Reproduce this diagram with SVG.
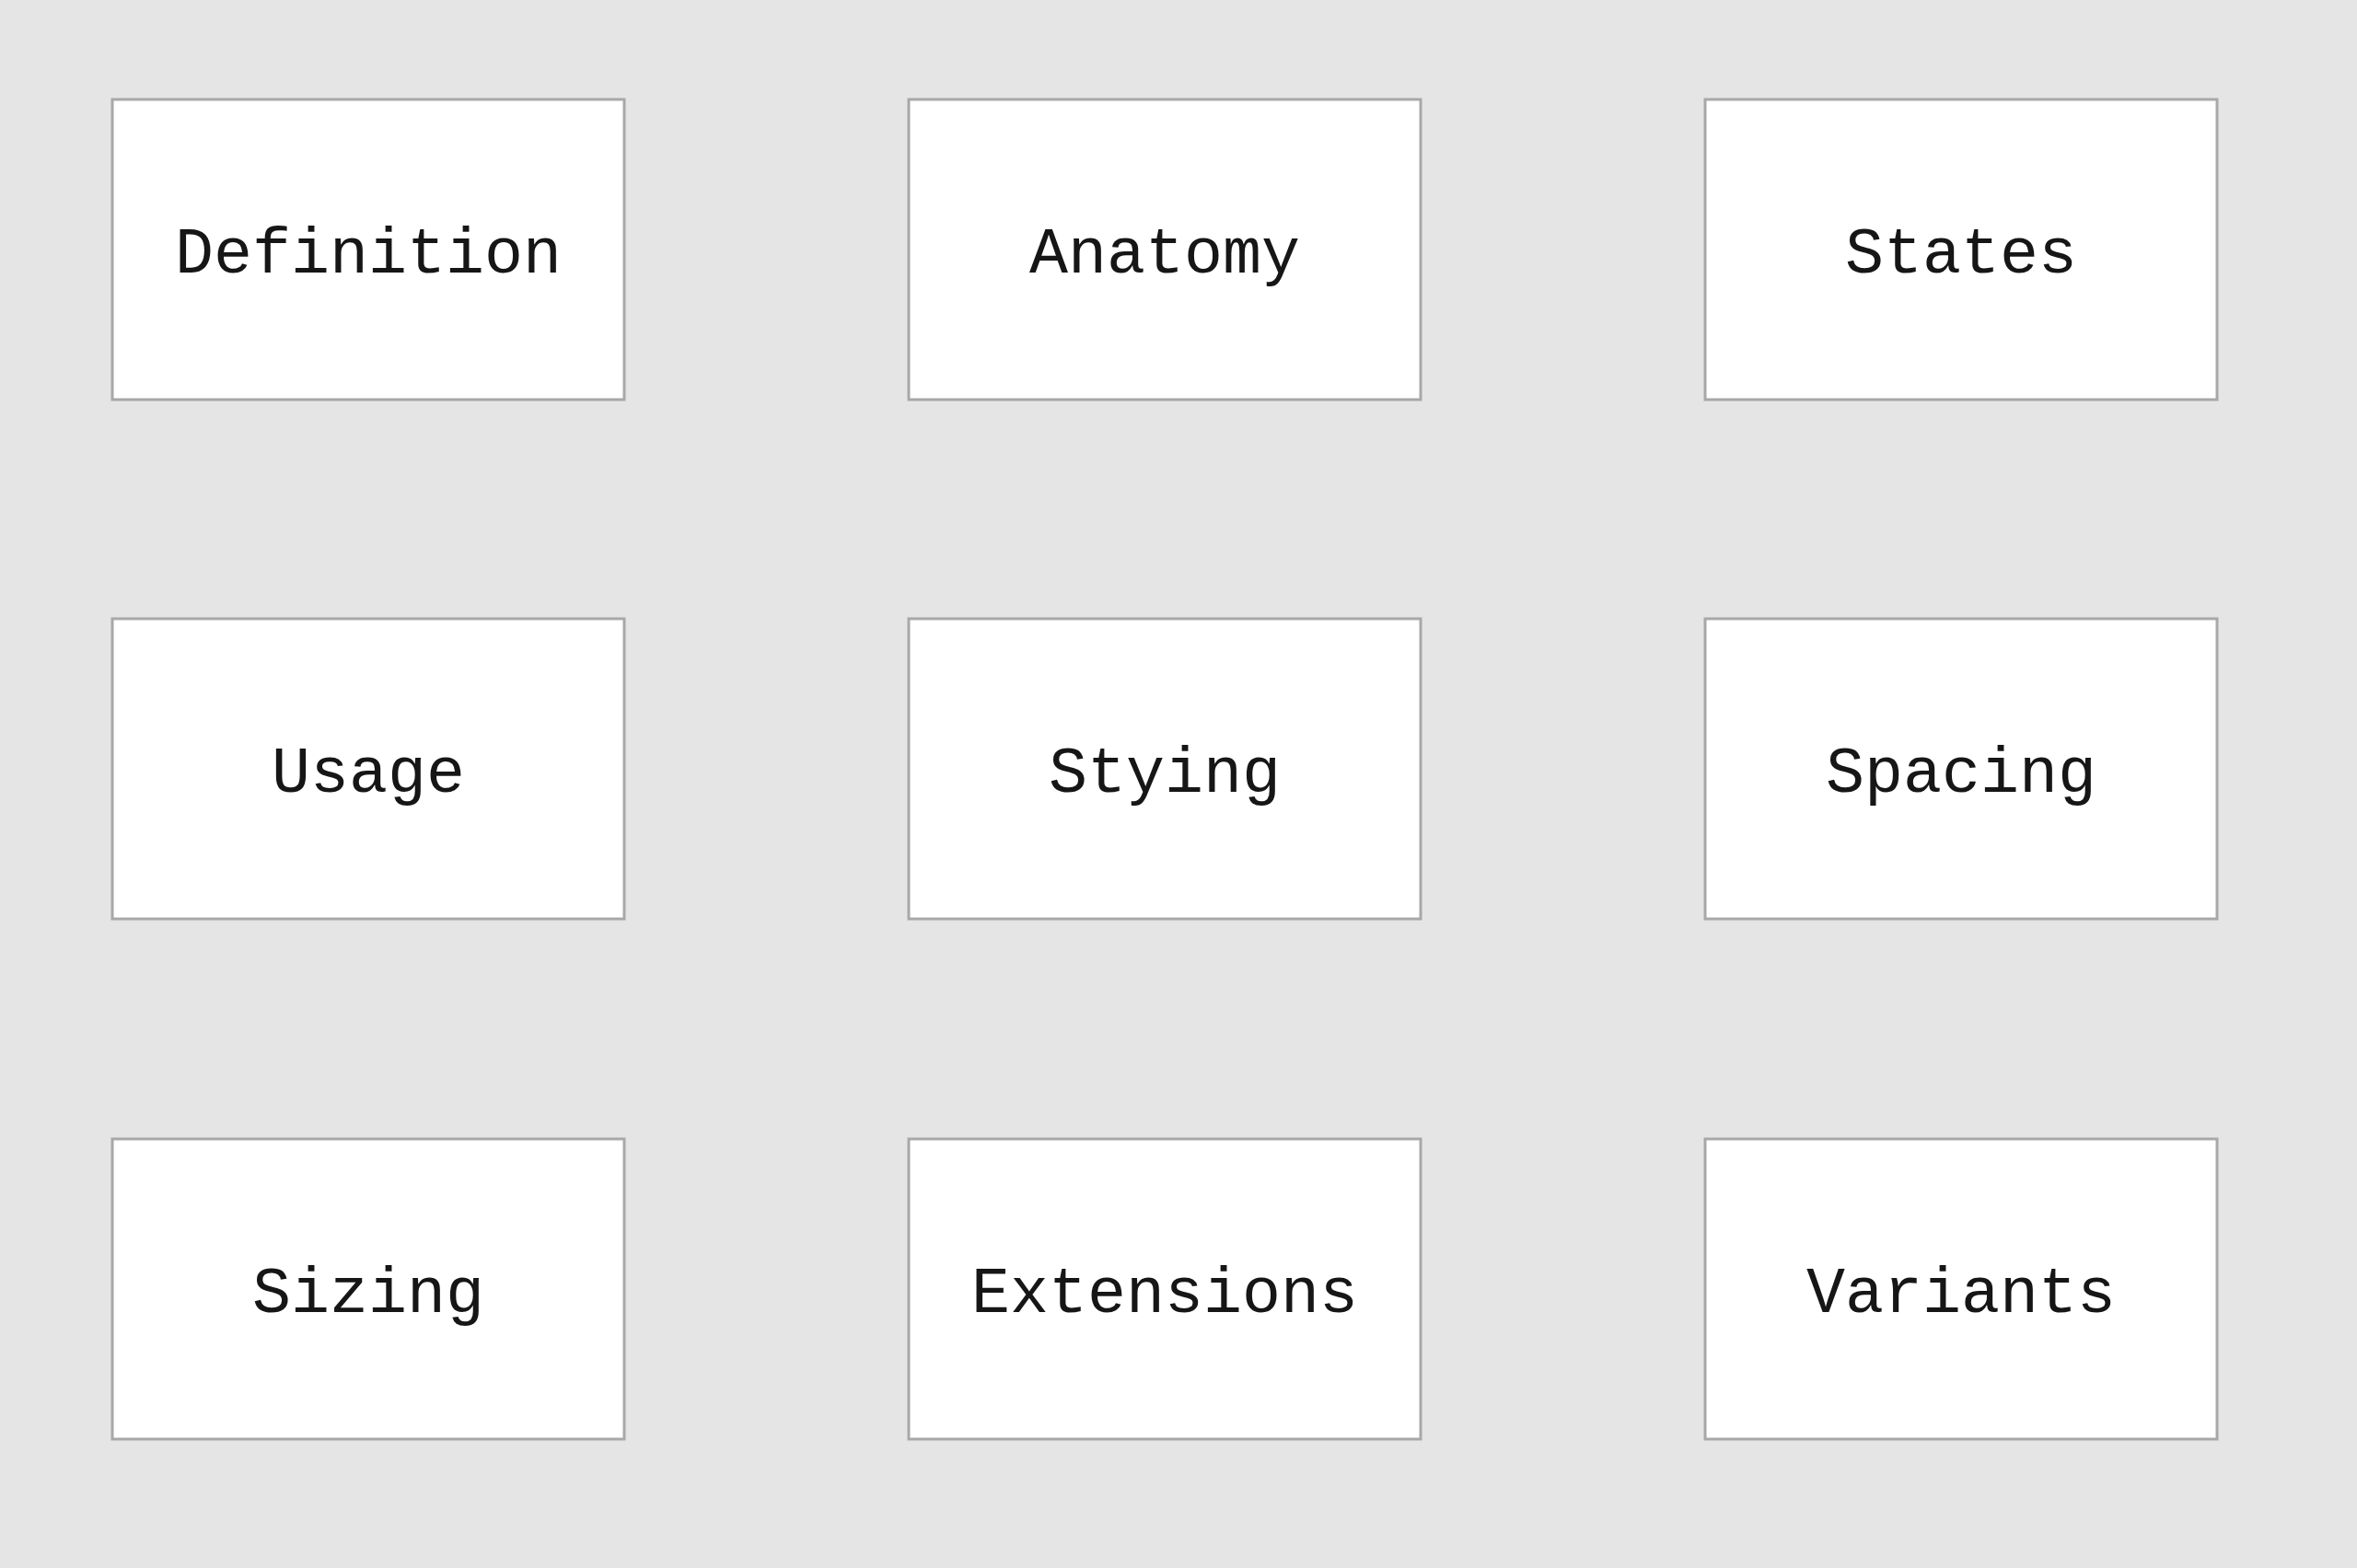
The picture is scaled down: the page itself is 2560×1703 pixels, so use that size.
<svg xmlns="http://www.w3.org/2000/svg" width="2560" height="1703" viewBox="0 0 2560 1703">
<style>
.box{fill:#ffffff;stroke:#a8a8a8;stroke-width:3}
.lbl{font-family:"Liberation Mono","DejaVu Sans Mono",monospace;font-size:70px;fill:#161616;text-anchor:middle}
</style>
<rect x="0" y="0" width="2560" height="1703" fill="#e5e5e5"/>
<g id="connectors"></g>
<g id="definition"><rect class="box" x="122" y="108" width="556" height="326"/><text class="lbl" x="400" y="296">Definition</text></g>
<g id="anatomy"><rect class="box" x="987" y="108" width="556" height="326"/><text class="lbl" x="1265" y="296">Anatomy</text></g>
<g id="states"><rect class="box" x="1852" y="108" width="556" height="326"/><text class="lbl" x="2130" y="296">States</text></g>
<g id="usage"><rect class="box" x="122" y="672" width="556" height="326"/><text class="lbl" x="400" y="860">Usage</text></g>
<g id="stying"><rect class="box" x="987" y="672" width="556" height="326"/><text class="lbl" x="1265" y="860">Stying</text></g>
<g id="spacing"><rect class="box" x="1852" y="672" width="556" height="326"/><text class="lbl" x="2130" y="860">Spacing</text></g>
<g id="sizing"><rect class="box" x="122" y="1237" width="556" height="326"/><text class="lbl" x="400" y="1425">Sizing</text></g>
<g id="extensions"><rect class="box" x="987" y="1237" width="556" height="326"/><text class="lbl" x="1265" y="1425">Extensions</text></g>
<g id="variants"><rect class="box" x="1852" y="1237" width="556" height="326"/><text class="lbl" x="2130" y="1425">Variants</text></g>
</svg>
